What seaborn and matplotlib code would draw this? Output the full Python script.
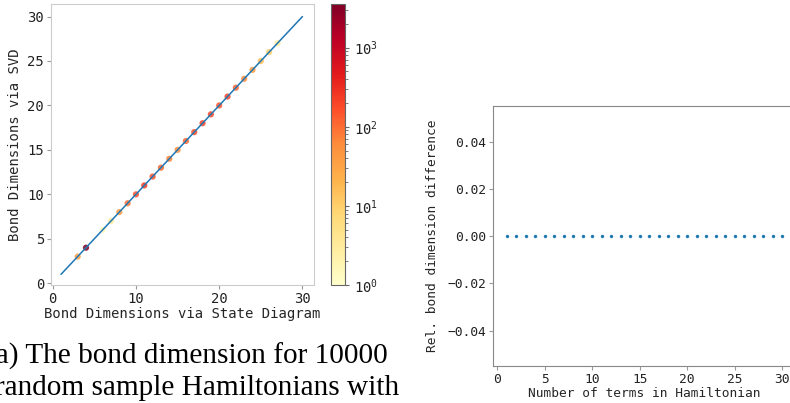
import numpy as np
import pandas as pd
import matplotlib
matplotlib.use('Agg')
import matplotlib.pyplot as plt
import seaborn as sns
from matplotlib.colors import LogNorm

#-------------------------------------------------
# left panel: bond dimension via state diagram vs via SVD, coloured by count
l_bond=[3, 4, 6, 7, 8, 9, 10, 11, 12, 13, 14, 15, 16, 17, 18, 19, 20, 21, 22, 23, 24, 25, 26, 27]
l_count=[35, 3500, 1.5, 3, 40, 90, 160, 250, 160, 110, 70, 55, 110, 170, 200, 190, 150, 200, 120, 60, 40, 15, 10, 3]
l_diag=[1, 30]

# right panel: relative difference per number of terms
l_terms=list(range(1, 31))
l_diff=[0.0]*30

cap_1='(a) The bond dimension for 10000'
cap_2='random sample Hamiltonians with'

#-------------------------------------------------
df=pd.DataFrame({'state': l_bond, 'svd': l_bond, 'count': l_count})
df_r=pd.DataFrame({'terms': l_terms, 'diff': l_diff})
norm=LogNorm(vmin=1, vmax=3550)

sns.set_style('white')
plt.rcParams['font.family']=['DejaVu Sans Mono']
plt.rcParams['text.color']='#222222'

fig=plt.figure(figsize=(7.9, 4.03), dpi=100)
ax1=fig.add_axes([0.0646, 0.2928, 0.333, 0.697])
cax=fig.add_axes([0.419, 0.2928, 0.0177, 0.697])
ax2=fig.add_axes([0.624, 0.0918, 0.3835, 0.645])

#------------------------------------------------
sns.scatterplot(data=df, x='state', y='svd', hue='count', hue_norm=norm, palette='YlOrRd',
                s=20, alpha=0.85, linewidth=0, legend=False, ax=ax1, zorder=2)
ax1.plot(l_diag, l_diag, color='#1f77b4', lw=1.1, zorder=3)
ax1.set_xlim(-0.2, 31.4)
ax1.set_ylim(-0.2, 31.4)
ax1.set_xticks([0, 10, 20, 30])
ax1.set_yticks([0, 5, 10, 15, 20, 25, 30])
ax1.set_xlabel('Bond Dimensions via State Diagram', fontsize=10, labelpad=1)
ax1.set_ylabel('Bond Dimensions via SVD', fontsize=10, labelpad=4)
for sp in ax1.spines.values():
    sp.set_color('#cccccc')
ax1.tick_params(labelsize=10, length=3, width=0.8, color='#999999', labelcolor='#222222', pad=2,
                bottom=True, left=True)

sm=plt.cm.ScalarMappable(norm=norm, cmap='YlOrRd')
cb=fig.colorbar(sm, cax=cax)
cb.outline.set_edgecolor('#666666')
cb.outline.set_linewidth(0.8)
cax.tick_params(labelsize=10, length=3, color='#666666', labelcolor='#222222')
cax.tick_params(which='minor', length=1.8, color='#666666')

#------------------------------------------------
sns.scatterplot(data=df_r, x='terms', y='diff', s=6, color='#1f77b4', linewidth=0, ax=ax2)
ax2.set_xlim(-0.45, 31.45)
ax2.set_ylim(-0.055, 0.055)
ax2.set_xticks([0, 5, 10, 15, 20, 25, 30])
ax2.set_yticks([-0.04, -0.02, 0.0, 0.02, 0.04])
ax2.set_xlabel('Number of terms in Hamiltonian', fontsize=9.3, labelpad=1)
ax2.set_ylabel('Rel. bond dimension difference', fontsize=9.3, labelpad=6)
for sp in ax2.spines.values():
    sp.set_color('#888888')
ax2.tick_params(labelsize=9.3, length=3, width=0.8, color='#999999', labelcolor='#222222', pad=2,
                bottom=True, left=True)

#------------------------------------------------
# caption is cut at the left edge in the source image too
fig.text(388/790, 1-364/403, cap_1, ha='right', va='baseline', fontsize=21.1,
         family='Liberation Serif', color='black')
fig.text(399/790, 1-395/403, cap_2, ha='right', va='baseline', fontsize=21.1,
         family='Liberation Serif', color='black')

plt.savefig('out.png', dpi=100)
plt.close()
